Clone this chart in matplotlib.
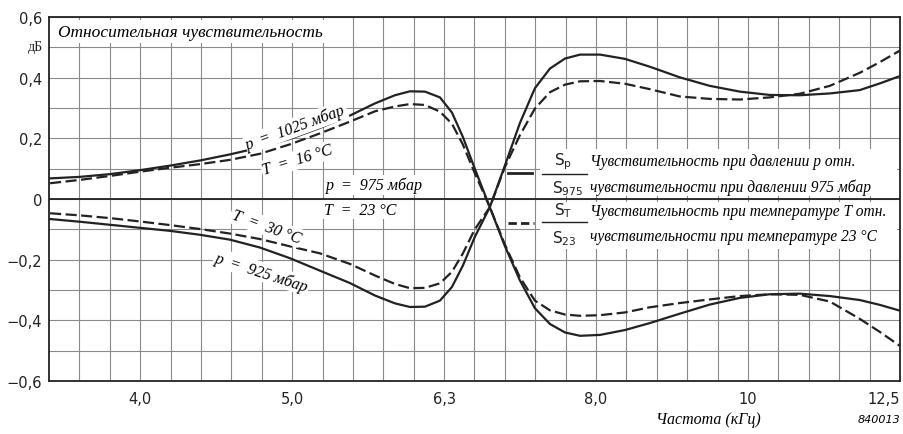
import numpy as np
import matplotlib
matplotlib.use("Agg")
import matplotlib.pyplot as plt
from matplotlib.patches import Rectangle

# ---- data ----
freq_khz = [3.473, 3.634, 3.803, 3.979, 4.165, 4.359, 4.561, 4.773, 4.994, 5.226,
            5.470, 5.681, 5.856, 5.991, 6.129, 6.270, 6.385, 6.491, 6.610, 6.762,
            6.918, 7.077, 7.240, 7.407, 7.578, 7.753, 7.992, 8.298, 8.618, 9.018,
            9.437, 9.877, 10.336, 10.816, 11.319, 11.844, 12.209, 12.585]

p1025 = [0.068, 0.073, 0.082, 0.095, 0.110, 0.127, 0.147, 0.170, 0.198, 0.234,
         0.275, 0.315, 0.342, 0.355, 0.354, 0.335, 0.285, 0.205, 0.100, -0.027,
         -0.155, -0.268, -0.360, -0.412, -0.440, -0.451, -0.448, -0.432, -0.409, -0.378,
         -0.348, -0.326, -0.314, -0.312, -0.320, -0.333, -0.349, -0.368]

t16 = [0.052, 0.063, 0.076, 0.090, 0.103, 0.115, 0.129, 0.149, 0.180, 0.216,
       0.255, 0.289, 0.305, 0.313, 0.310, 0.288, 0.248, 0.180, 0.085, -0.027,
       -0.150, -0.258, -0.335, -0.367, -0.381, -0.385, -0.383, -0.374, -0.357, -0.343,
       -0.331, -0.320, -0.314, -0.316, -0.338, -0.395, -0.438, -0.484]

p925 = [-0.066, -0.075, -0.085, -0.095, -0.105, -0.118, -0.134, -0.160, -0.195, -0.236,
        -0.277, -0.318, -0.344, -0.356, -0.355, -0.335, -0.290, -0.220, -0.125, -0.027,
        0.110, 0.250, 0.365, 0.430, 0.463, 0.476, 0.476, 0.462, 0.436, 0.401,
        0.373, 0.354, 0.343, 0.342, 0.348, 0.359, 0.381, 0.405]

t30 = [-0.047, -0.054, -0.063, -0.074, -0.086, -0.099, -0.114, -0.132, -0.156, -0.179,
       -0.214, -0.252, -0.280, -0.294, -0.293, -0.278, -0.240, -0.180, -0.100, -0.027,
       0.105, 0.210, 0.298, 0.352, 0.377, 0.388, 0.389, 0.380, 0.362, 0.338,
       0.330, 0.328, 0.335, 0.347, 0.373, 0.416, 0.451, 0.489]

x_tick_labels = ["4,0", "5,0", "6,3", "8,0", "10", "12,5"]
y_ticks = [-0.6, -0.4, -0.2, 0.0, 0.2, 0.4, 0.6]
y_tick_labels = ["\u22120,6", "\u22120,4", "\u22120,2", "0", "0,2", "0,4", "0,6"]

# ---- figure ----
fig = plt.figure(figsize=(9.04, 4.35), dpi=100)
ax = fig.add_axes([49 / 904, 53 / 435, 851 / 904, 364 / 435])

serif_it = dict(family="Liberation Serif", style="italic")
white_box = dict(facecolor="white", edgecolor="none", pad=1.0)
ink = "#222222"

ax.set_xscale("log")
ax.set_xlim(10 ** 0.54, 10 ** 1.1)
ax.set_ylim(-0.6, 0.6)

major = 10 ** (np.arange(6, 12) / 10)
minor = 10 ** (0.54 + 0.02 * np.arange(1, 28))
ax.set_xticks(major)
ax.set_xticklabels(x_tick_labels)
ax.set_xticks(minor, minor=True)
ax.xaxis.set_minor_formatter(matplotlib.ticker.NullFormatter())
ax.set_yticks(y_ticks)
ax.set_yticklabels(y_tick_labels)
ax.set_yticks(np.arange(-5, 6) / 10, minor=True)

ax.tick_params(which="both", length=0)
ax.tick_params(axis="x", pad=7, labelsize=10.5)
ax.tick_params(axis="y", pad=5, labelsize=10.5)
for lab in ax.get_xticklabels() + ax.get_yticklabels():
    lab.set_family("DejaVu Sans")
    lab.set_color(ink)
ax.get_xticklabels()[-1].set_horizontalalignment("right")

ax.set_axisbelow(True)
ax.grid(which="both", color="#8a8a8a", linewidth=0.8)
for s in ax.spines.values():
    s.set_linewidth(1.3)
    s.set_color(ink)

ax.axhline(0, color=ink, linewidth=1.3, zorder=2)

# white areas behind legend text
for y0 in (0.363, 0.508):
    ax.add_patch(Rectangle((0.577, y0), 0.42, 0.129, transform=ax.transAxes,
                           facecolor="white", edgecolor="none", zorder=1))

# curves
lw = 1.6
ax.plot(freq_khz, p1025, color=ink, lw=lw, zorder=3)
ax.plot(freq_khz, p925, color=ink, lw=lw, zorder=3)
ax.plot(freq_khz, t16, color=ink, lw=lw, dashes=(5, 2), zorder=3)
ax.plot(freq_khz, t30, color=ink, lw=lw, dashes=(5, 2), zorder=3)

# annotations
fs_ann = 11.5
ax.text(0.0106, 0.959, "Относительная чувствительность", transform=ax.transAxes,
        ha="left", va="center", fontsize=12.5,
        bbox=dict(facecolor="white", edgecolor="none", pad=2.5), **serif_it)
ax.text(0.290, 0.698, "p  =  1025 мбар", transform=ax.transAxes, rotation=20,
        ha="center", va="center", fontsize=fs_ann, bbox=white_box, zorder=4, **serif_it)
ax.text(0.292, 0.608, "T  =  16 °C", transform=ax.transAxes, rotation=17,
        ha="center", va="center", fontsize=fs_ann, bbox=white_box, zorder=4, **serif_it)
ax.text(0.325, 0.538, "p  =  975 мбар", transform=ax.transAxes,
        ha="left", va="center", fontsize=fs_ann, bbox=white_box, zorder=4, **serif_it)
ax.text(0.323, 0.470, "T  =  23 °C", transform=ax.transAxes,
        ha="left", va="center", fontsize=fs_ann, bbox=white_box, zorder=4, **serif_it)
ax.text(0.255, 0.425, "T  =  30 °C", transform=ax.transAxes, rotation=-20,
        ha="center", va="center", fontsize=fs_ann, bbox=white_box, zorder=4, **serif_it)
ax.text(0.250, 0.300, "p  =  925 мбар", transform=ax.transAxes, rotation=-18,
        ha="center", va="center", fontsize=fs_ann, bbox=white_box, zorder=4, **serif_it)

# legend
ax.plot([0.539, 0.568], [0.571, 0.571], transform=ax.transAxes, color=ink, lw=2.0, zorder=4)
ax.plot([0.539, 0.570], [0.434, 0.434], transform=ax.transAxes, color=ink, lw=2.0,
        dashes=(3, 1.5), zorder=4)
for ybar in (0.569, 0.437):
    ax.plot([0.579, 0.632], [ybar, ybar], transform=ax.transAxes, color=ink, lw=1.0, zorder=4)

sans = dict(family="DejaVu Sans", color=ink)
ax.text(0.604, 0.606, r"$\mathregular{S_{p}}$", transform=ax.transAxes, ha="center", va="center",
        fontsize=11, zorder=4, **sans)
ax.text(0.609, 0.530, r"$\mathregular{S_{975}}$", transform=ax.transAxes, ha="center", va="center",
        fontsize=11, zorder=4, **sans)
ax.text(0.604, 0.470, r"$\mathregular{S_{T}}$", transform=ax.transAxes, ha="center", va="center",
        fontsize=11, zorder=4, **sans)
ax.text(0.606, 0.395, r"$\mathregular{S_{23}}$", transform=ax.transAxes, ha="center", va="center",
        fontsize=11, zorder=4, **sans)

fs_leg = 11.2
ax.text(0.636, 0.604, "Чувствительность при давлении p отн.", transform=ax.transAxes,
        ha="left", va="center", fontsize=fs_leg, zorder=4, **serif_it)
ax.text(0.636, 0.533, "чувствительности при давлении 975 мбар", transform=ax.transAxes,
        ha="left", va="center", fontsize=fs_leg, zorder=4, **serif_it)
ax.text(0.636, 0.467, "Чувствительность при температуре T отн.", transform=ax.transAxes,
        ha="left", va="center", fontsize=fs_leg, zorder=4, **serif_it)
ax.text(0.636, 0.398, "чувствительности при температуре 23 °C", transform=ax.transAxes,
        ha="left", va="center", fontsize=fs_leg, zorder=4, **serif_it)

# outer texts
fig.text(35 / 904, 1 - 47 / 435, "дБ", ha="center", va="center", fontsize=10,
         family="Liberation Serif", color=ink)
fig.text(708 / 904, 1 - 420 / 435, "Частота (кГц)", ha="center", va="center", fontsize=11.5, **serif_it)
fig.text(900 / 904, 1 - 420 / 435, "840013", ha="right", va="center", fontsize=8,
         family="DejaVu Sans", style="italic")

fig.savefig("out.png", dpi=100)
